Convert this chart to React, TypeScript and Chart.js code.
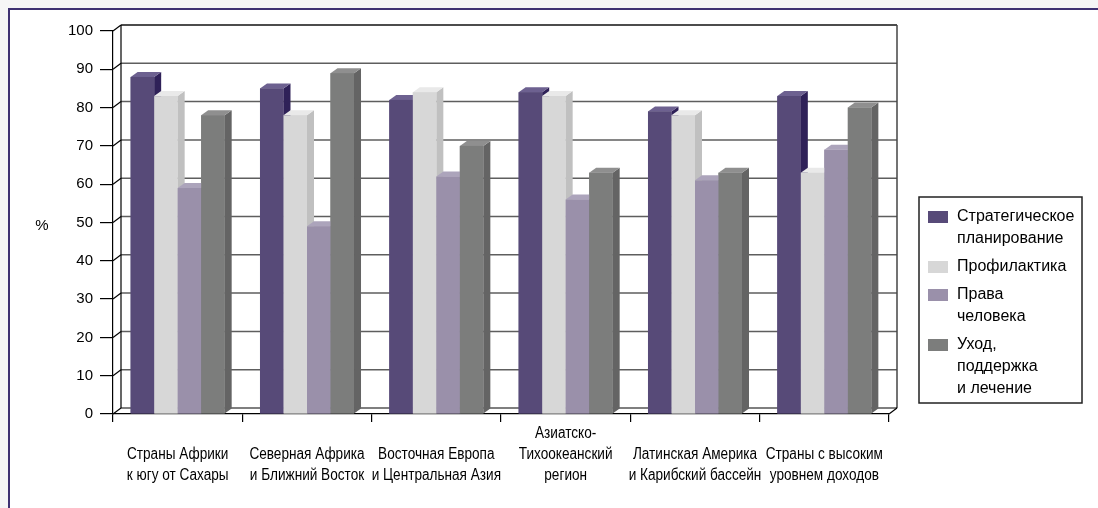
import React, { useEffect, useRef } from 'react';
import { Chart, registerables } from 'chart.js';

Chart.register(...registerables);

// ---------- data ----------
const categories: string[][] = [
  ['Страны Африки', 'к югу от Сахары'],
  ['Северная Африка', 'и Ближний Восток'],
  ['Восточная Европа', 'и Центральная Азия'],
  ['Азиатско-', 'Тихоокеанский', 'регион'],
  ['Латинская Америка', 'и Карибский бассейн'],
  ['Страны с высоким', 'уровнем доходов'],
];

const seriesNames: string[][] = [
  ['Стратегическое', 'планирование'],
  ['Профилактика'],
  ['Права', 'человека'],
  ['Уход,', 'поддержка', 'и лечение'],
];

const strategicPlanning = [88, 85, 82, 84, 79, 83];
const prevention = [83, 78, 84, 83, 78, 63];
const humanRights = [59, 49, 62, 56, 61, 69];
const careSupport = [78, 89, 70, 63, 63, 80];

const yMin = 0;
const yMax = 100;
const yStep = 10;
const yAxisTitle = '%';

// front, top, side colours per series
const seriesColors: string[][] = [
  ['#574a78', '#6d6190', '#2f2158'],
  ['#d7d7d7', '#e9e9e9', '#c0c0c0'],
  ['#9a90aa', '#aca4bb', '#7d7392'],
  ['#7c7d7c', '#8f8f8f', '#646464'],
];

const seriesValues = [strategicPlanning, prevention, humanRights, careSupport];

// ---------- 3D geometry ----------
const WDX = 8;
const WDY = -6;
const BDX = 7;
const BDY = -5;

const FONT = '"Liberation Sans", Arial, Helvetica, sans-serif';

const line = (ctx: CanvasRenderingContext2D, x1: number, y1: number, x2: number, y2: number, color: string, w: number) => {
  ctx.beginPath();
  ctx.strokeStyle = color;
  ctx.lineWidth = w;
  ctx.moveTo(x1, y1);
  ctx.lineTo(x2, y2);
  ctx.stroke();
};

const threeDPlugin = {
  id: 'threeD',
  beforeDatasetsDraw(chart: any) {
    const ctx: CanvasRenderingContext2D = chart.ctx;
    const { left: L, right: R, top: T, bottom: B } = chart.chartArea;
    const y = chart.scales.y;
    ctx.save();
    ctx.fillStyle = '#ffffff';
    ctx.fillRect(L + WDX, T + WDY, R - L, B - T);
    for (let v = yMin; v <= yMax; v += yStep) {
      const py = y.getPixelForValue(v);
      if (v > yMin && v < yMax) {
        line(ctx, L + WDX, py + WDY, R + WDX, py + WDY, '#5e5e5e', 1.5);
      }
      line(ctx, L, py, L + WDX, py + WDY, '#000000', 1.2);
    }
    const pTop = y.getPixelForValue(yMax);
    line(ctx, L + WDX, pTop + WDY, R + WDX, pTop + WDY, '#111111', 1.5);
    line(ctx, L + WDX, T + WDY, L + WDX, B + WDY, '#000000', 1.2);
    line(ctx, R + WDX, T + WDY, R + WDX, B + WDY, '#444444', 1.5);
    line(ctx, L + WDX, B + WDY, R + WDX, B + WDY, '#000000', 1.2);
    line(ctx, R, B, R + WDX, B + WDY, '#000000', 1.2);
    ctx.restore();
  },
  afterDatasetsDraw(chart: any) {
    const ctx: CanvasRenderingContext2D = chart.ctx;
    const nCat = chart.data.labels.length;
    const nDs = chart.data.datasets.length;
    ctx.save();
    for (let i = 0; i < nCat; i++) {
      for (let d = 0; d < nDs; d++) {
        const el = chart.getDatasetMeta(d).data[i];
        if (!el) continue;
        const p = el.getProps(['x', 'y', 'base', 'width'], true);
        const x0 = p.x - p.width / 2;
        const x1 = p.x + p.width / 2;
        const top = p.y;
        const base = p.base;
        const [cFront, cTop, cSide] = seriesColors[d];
        ctx.fillStyle = cSide;
        ctx.beginPath();
        ctx.moveTo(x1, top);
        ctx.lineTo(x1 + BDX, top + BDY);
        ctx.lineTo(x1 + BDX, base + BDY);
        ctx.lineTo(x1, base);
        ctx.closePath();
        ctx.fill();
        ctx.fillStyle = cTop;
        ctx.beginPath();
        ctx.moveTo(x0, top);
        ctx.lineTo(x0 + BDX, top + BDY);
        ctx.lineTo(x1 + BDX, top + BDY);
        ctx.lineTo(x1, top);
        ctx.closePath();
        ctx.fill();
        ctx.fillStyle = cFront;
        ctx.fillRect(x0, top, x1 - x0, base - top);
      }
    }
    ctx.restore();
  },
  afterDraw(chart: any) {
    const ctx: CanvasRenderingContext2D = chart.ctx;
    ctx.save();
    ctx.fillStyle = '#000000';
    ctx.font = `15px ${FONT}`;
    ctx.textAlign = 'center';
    ctx.textBaseline = 'middle';
    ctx.fillText(yAxisTitle, 42, 226);

    // category labels (condensed, bottom aligned)
    const xs = chart.scales.x;
    ctx.font = `16px ${FONT}`;
    categories.forEach((lines, i) => {
      const cx = xs.getPixelForValue(i);
      const n = lines.length;
      lines.forEach((t, k) => {
        const cy = 476 - (n - 1 - k) * 21;
        ctx.save();
        ctx.translate(cx, cy);
        ctx.scale(0.85, 1);
        ctx.fillText(t, 0, 0);
        ctx.restore();
      });
    });

    // legend
    const bx = 919, by = 197, bw = 163, bh = 206;
    ctx.strokeStyle = '#222222';
    ctx.lineWidth = 1.5;
    ctx.strokeRect(bx, by, bw, bh);
    ctx.font = `16px ${FONT}`;
    ctx.textAlign = 'left';
    ctx.textBaseline = 'middle';
    const lh = 22;
    let cy = 217;
    seriesNames.forEach((lines, d) => {
      ctx.fillStyle = seriesColors[d][0];
      ctx.fillRect(928, cy - 6, 20, 12);
      ctx.fillStyle = '#000000';
      lines.forEach((t, k) => ctx.fillText(t, 957, cy + k * lh));
      cy += lines.length * lh + 6;
    });
    ctx.restore();
  },
};

export default function App() {
  const canvasRef = useRef<HTMLCanvasElement | null>(null);

  useEffect(() => {
    if (!canvasRef.current) return;
    const chart = new Chart(canvasRef.current, {
      type: 'bar',
      data: {
        labels: categories.map((c) => c.join(' ')),
        datasets: seriesValues.map((vals, d) => ({
          label: seriesNames[d].join(' '),
          data: vals,
          backgroundColor: seriesColors[d][0],
          borderWidth: 0,
          barPercentage: 1,
          categoryPercentage: 0.727,
        })),
      },
      options: {
        animation: false,
        responsive: false,
        devicePixelRatio: 1,
        events: [],
        layout: { padding: { left: 0, top: 31, right: 209, bottom: 0 } },
        plugins: {
          legend: { display: false },
          tooltip: { enabled: false },
          title: { display: false },
        },
        scales: {
          x: {
            type: 'category',
            offset: true,
            afterFit: (s: any) => { s.height = 94; },
            grid: {
              display: true,
              drawOnChartArea: false,
              drawTicks: true,
              tickLength: 8,
              color: '#000000',
              lineWidth: 1.2,
              offset: true,
            },
            border: { display: true, color: '#000000', width: 1.2 },
            ticks: {
              display: false,
              autoSkip: false,
              maxRotation: 0,
              minRotation: 0,
            },
          },
          y: {
            min: yMin,
            max: yMax,
            afterFit: (s: any) => { s.width = 113; },
            grid: {
              display: true,
              drawOnChartArea: false,
              drawTicks: true,
              tickLength: 13,
              color: '#000000',
              lineWidth: 1.2,
            },
            border: { display: true, color: '#000000', width: 1.2 },
            ticks: {
              stepSize: yStep,
              color: '#000000',
              font: { family: FONT, size: 15 },
              padding: 7,
            },
          },
        },
      },
      plugins: [threeDPlugin],
    } as any);
    return () => chart.destroy();
  }, []);

  return (
    <div style={{ position: 'fixed', left: 0, top: 0, width: 1098, height: 508, background: '#f6f6f6', overflow: 'hidden' }}>
      <div
        style={{
          position: 'absolute',
          left: 8,
          top: 8,
          width: 1098,
          height: 508,
          background: '#ffffff',
          borderTop: '2px solid #3f3272',
          borderLeft: '2px solid #3f3272',
        }}
      />
      <canvas
        ref={canvasRef}
        width={1098}
        height={508}
        style={{ position: 'absolute', left: 0, top: 0, width: 1098, height: 508 }}
      />
    </div>
  );
}
